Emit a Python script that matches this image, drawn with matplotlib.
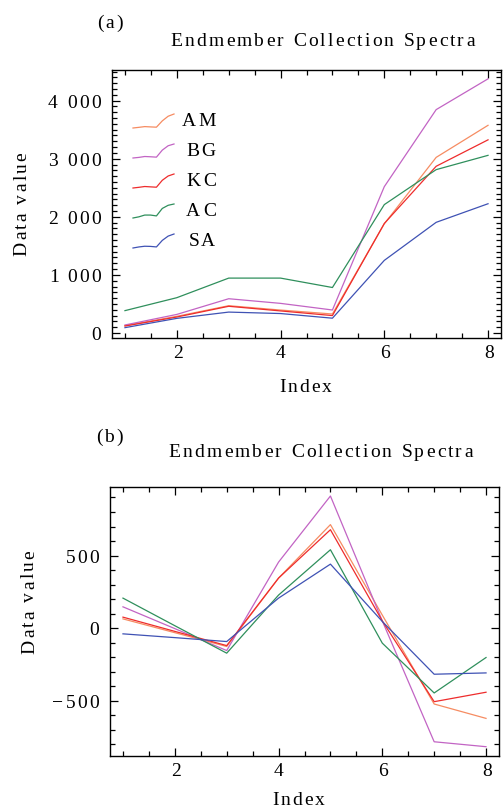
import matplotlib
matplotlib.use('Agg')
import matplotlib.pyplot as plt
from matplotlib import font_manager
from matplotlib.ft2font import FT2Font, LoadFlags
from matplotlib.lines import Line2D
from matplotlib.ticker import MultipleLocator
from matplotlib.transforms import IdentityTransform

W, H, DPI = 503, 808, 100
SERIF = 'Liberation Serif'
SIZE = 14
TRACK = 2.2   # letter spacing in pixels, the original has wide-set type

# ---- data ----
index = [1, 2, 3, 4, 5, 6, 7, 8]
names = ['AM', 'BG', 'KC', 'AC', 'SA']
colors = ['#f68c62', '#c264c4', '#ee2c2c', '#2f8f5c', '#3f52b4']

# panel (a): raw endmember spectra
am_a = [126, 287, 470, 395, 327, 1880, 3023, 3575]
bg_a = [138, 320, 590, 510, 396, 2519, 3845, 4375]
kc_a = [120, 275, 460, 380, 300, 1885, 2870, 3325]
ac_a = [385, 608, 945, 945, 783, 2210, 2812, 3058]
sa_a = [92, 252, 360, 335, 255, 1250, 1905, 2225]

# panel (b): second set of spectra
am_b = [64, -31, -126, 345, 713, 90, -522, -621]
bg_b = [147, -3, -154, 455, 910, 50, -782, -816]
kc_b = [76, -22, -120, 345, 678, 50, -506, -441]
ac_b = [207, 17, -172, 228, 540, -103, -446, -202]
sa_b = [-39, -65, -92, 207, 441, 46, -317, -308]

xticks = [2, 4, 6, 8]
yticks_a = [0, 1000, 2000, 3000, 4000]
yticks_b = [-500, 0, 500]

fig = plt.figure(figsize=(W / DPI, H / DPI), dpi=DPI)
fig.patch.set_facecolor('white')

FONT = FT2Font(font_manager.findfont(font_manager.FontProperties(family=SERIF)))


def glyph_metrics(s):
    FONT.set_size(SIZE, DPI)
    out = []
    for ch in s:
        g = FONT.load_char(ord(ch), flags=LoadFlags.NO_HINTING)
        out.append((g.linearHoriAdvance / 65536, g.horiBearingX / 64))
    return out


def tracked(x, y, s, ha='center', rot=0, color='black'):
    """draw s with extra letter spacing; x, y in display pixels, y = baseline"""
    m = glyph_metrics(s)
    total = sum(a for a, _ in m) + TRACK * (len(s) - 1)
    pen = -{'left': 0, 'center': total / 2, 'right': total}[ha]
    for ch, (adv, lsb) in zip(s, m):
        if ch != ' ':
            d = pen + lsb
            px, py = (x + d, y) if rot == 0 else (x, y + d)
            fig.text(px, py, ch, transform=IdentityTransform(), family=SERIF,
                     size=SIZE, ha='left', va='baseline', rotation=rot,
                     rotation_mode='anchor', color=color)
        pen += adv + TRACK


def fmt(v):
    return f'{v:,}'.replace(',', ' ').replace('-', '\u2212')


def panel(box, series, ylim, yticks, ymajor):
    l, t, r, b = box  # image pixels
    ax = fig.add_axes([l / W, (H - b) / H, (r - l) / W, (b - t) / H])
    for vals, c in zip(series, colors):
        ax.plot(index, vals, color=c, lw=0.9)
    ax.set_xlim(0.75, 8.25)
    ax.set_ylim(*ylim)
    ax.xaxis.set_major_locator(MultipleLocator(2))
    ax.xaxis.set_minor_locator(MultipleLocator(0.5))
    ax.yaxis.set_major_locator(MultipleLocator(ymajor))
    ax.yaxis.set_minor_locator(MultipleLocator(100))
    ax.tick_params(which='both', direction='in', top=True, right=True,
                   labelleft=False, labelbottom=False, width=0.9)
    ax.tick_params(which='major', length=6)
    ax.tick_params(which='minor', length=3.3)
    for s in ax.spines.values():
        s.set_linewidth(1.0)
    # tick labels
    for v in yticks:
        dx, dy = ax.transData.transform((0.75, v))
        tracked(dx - 12, dy - 7.3, fmt(v), ha='right')
    for v in xticks:
        dx, dy = ax.transData.transform((v, ylim[0]))
        tracked(dx, dy - 20.3, fmt(v))
    return ax


# ---- panel (a) ----
series_a = [am_a, bg_a, kc_a, ac_a, sa_a]
ax_a = panel((112, 70, 501, 338), series_a, (-86, 4527), yticks_a, 1000)
tracked(109, H - 28, '(a)')
tracked(322, H - 45.5, 'Endmember Collection Spectra')
tracked(305, H - 392.5, 'Index')
tracked(26.7, H - 204.5, 'Data value', rot=90)

# legend: small normalised copies of each spectrum, as in the original
for k, (name, vals, c) in enumerate(zip(names, series_a, colors)):
    base = 126.5 + 30 * k
    lo, hi = min(vals), max(vals)
    xs = [133 + (i - index[0]) / (index[-1] - index[0]) * 41 for i in index]
    ys = [H - (base + 1.5 - (v - lo) / (hi - lo) * 14) for v in vals]
    fig.add_artist(Line2D(xs, ys, color=c, lw=0.9, transform=IdentityTransform()))
    tracked(215, H - base, name, ha='right')

# ---- panel (b) ----
series_b = [am_b, bg_b, kc_b, ac_b, sa_b]
ax_b = panel((110, 487, 499, 756), series_b, (-880, 972), yticks_b, 500)
tracked(109, H - 441.5, '(b)')
tracked(320, H - 457.3, 'Endmember Collection Spectra')
tracked(298, H - 804.7, 'Index')
tracked(34, H - 602.5, 'Data value', rot=90)

fig.savefig('out.png', dpi=DPI, facecolor='white')
